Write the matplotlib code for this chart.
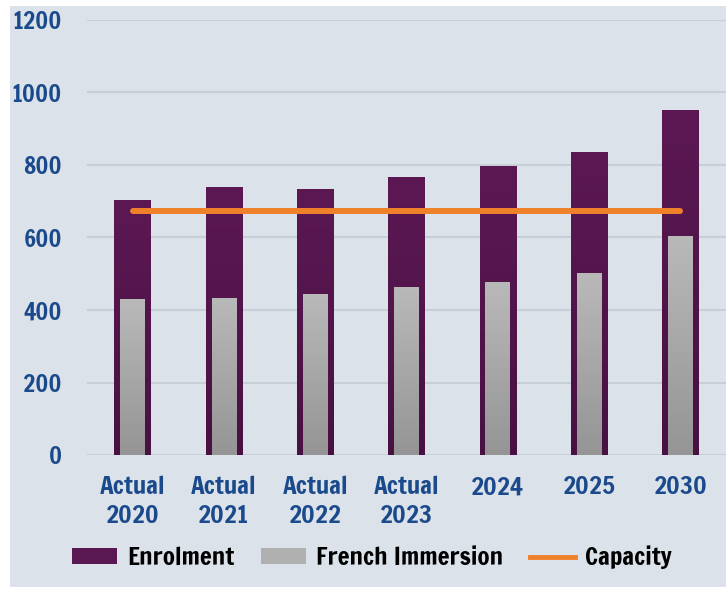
import matplotlib
matplotlib.use("Agg")
import matplotlib.pyplot as plt
import numpy as np
from matplotlib.patches import Rectangle
from matplotlib.lines import Line2D
from matplotlib.patches import Patch

categories = ["Actual\n2020", "Actual\n2021", "Actual\n2022", "Actual\n2023", "2024", "2025", "2030"]
enrolment = [703, 738, 735, 767, 798, 837, 952]
french_immersion = [430, 434, 445, 463, 478, 503, 604]
capacity = [674, 674, 674, 674, 674, 674, 674]
yticks = [0, 200, 400, 600, 800, 1000, 1200]

FONT = ["Francois One", "Anton", "DejaVu Sans"]
plt.rcParams["font.family"] = FONT

W, H = 726, 593
fig = plt.figure(figsize=(W / 100, H / 100), dpi=100)
fig.patch.set_facecolor("white")
fig.patches.append(Rectangle((10 / W, 6 / H), 1 - 10 / W, (587 - 6) / H,
                             transform=fig.transFigure, facecolor="#dbe2ea",
                             edgecolor="none", zorder=-5))

ax = fig.add_axes([87 / W, (593 - 455) / H, 1 - 87 / W, (455 - 20) / H])
ax.set_zorder(2)
ax.set_facecolor("none")
x = np.arange(len(categories))

def gradient_fill(bars, top_col, bot_col):
    grad = np.linspace(0, 1, 256).reshape(-1, 1)
    c1 = np.array(matplotlib.colors.to_rgb(top_col))
    c2 = np.array(matplotlib.colors.to_rgb(bot_col))
    img = (c1 * (1 - grad) + c2 * grad)[:, None, :].repeat(2, axis=1)
    for b in bars:
        bx, by = b.get_x(), b.get_y()
        bw, bh = b.get_width(), b.get_height()
        im = ax.imshow(img, extent=(bx, bx + bw, by, by + bh), origin="upper",
                       aspect="auto", zorder=b.get_zorder(), interpolation="bilinear")
        im.set_clip_path(b)

b1 = ax.bar(x, enrolment, width=0.40, color="#5a1852", zorder=2)
gradient_fill(b1, "#5c1853", "#481142")
b2 = ax.bar(x, french_immersion, width=0.27, color="#aaaaaa", zorder=3)
gradient_fill(b2, "#b9b9b9", "#959595")
ax.plot(x, capacity, color="#f0812b", lw=4.3, solid_capstyle="round", zorder=4)

ax.set_xlim(-0.5, 6.5)
ax.set_ylim(0, 1200)
ax.set_yticks(yticks)
ax.set_yticklabels([str(v) for v in yticks])
ax.set_xticks(x)
ax.set_xticklabels(categories)
ax.grid(axis="y", color="#c6ced8", lw=1.5, zorder=1)
ax.set_axisbelow(True)
for s in ax.spines.values():
    s.set_visible(False)
ax.tick_params(axis="both", length=0)
ax.tick_params(axis="y", pad=18, labelsize=17, labelcolor="#1b4a8c")
ax.tick_params(axis="x", pad=15, labelsize=18, labelcolor="#1b4a8c")
for t in ax.get_xticklabels():
    t.set_linespacing(1.35)

fs = 18
fpx = fs * 100 / 72
handles = [Patch(facecolor="#5a1852", edgecolor="none"),
           Patch(facecolor="#b0b0b0", edgecolor="none"),
           Line2D([0], [0], color="#f0812b", lw=3.5)]
leg = fig.legend(handles, ["Enrolment", "French Immersion", "Capacity"],
                 loc="center left", bbox_to_anchor=(72 / W, 1 - 557 / H), ncol=3,
                 frameon=False, prop={"family": FONT, "size": fs},
                 handlelength=45 / fpx, handleheight=14 / fpx, handletextpad=10 / fpx,
                 columnspacing=27 / fpx, borderpad=0, borderaxespad=0)

fig.savefig("out.png", dpi=100, facecolor=fig.get_facecolor())
